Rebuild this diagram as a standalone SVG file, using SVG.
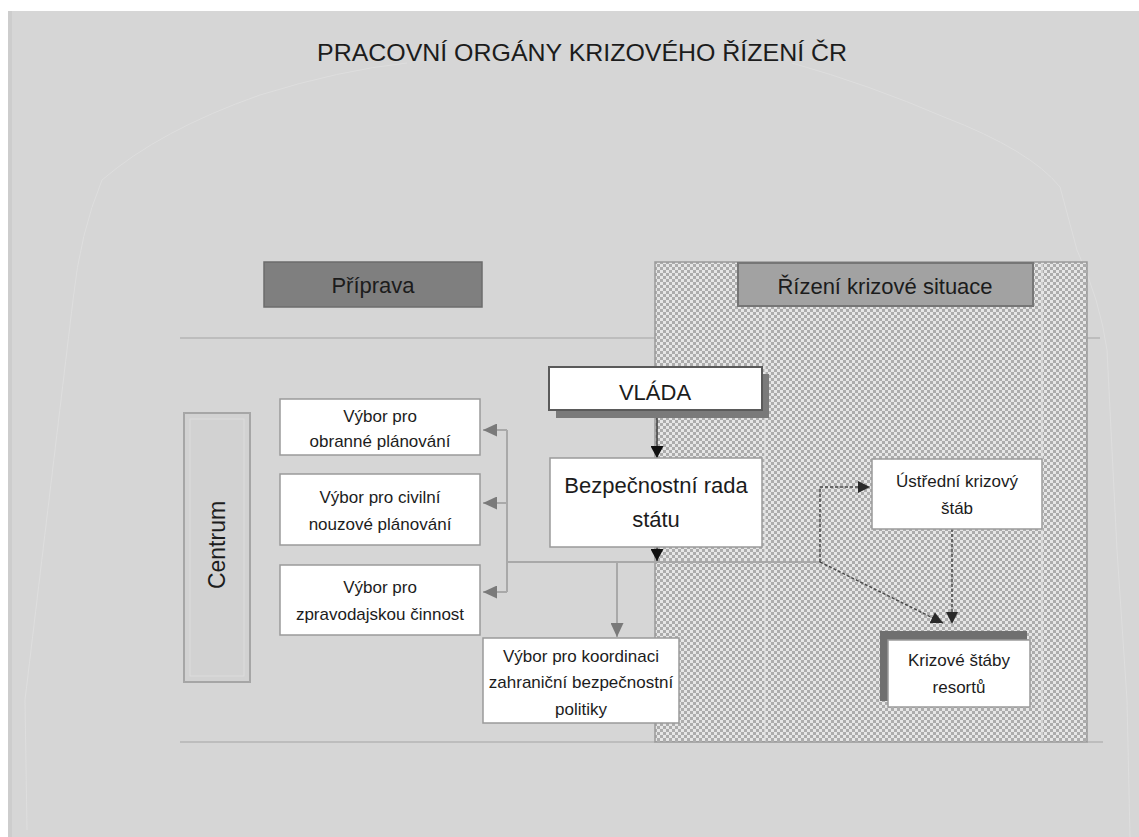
<svg xmlns="http://www.w3.org/2000/svg" width="1139" height="837" viewBox="0 0 1139 837">
  <style>
    .t { font-family: "Liberation Sans", Arial, sans-serif; fill: #1c1c1c; text-anchor: middle; }
    .big { font-size: 22px; }
    .small { font-size: 17px; }
    .box { fill: #ffffff; stroke: #9a9a9a; stroke-width: 1.5; }
    .guide { stroke: #bdbdbd; stroke-width: 2; fill: none; }
    .bus { stroke: #a9a9a9; stroke-width: 2; fill: none; }
    .solid { stroke: #3a3a3a; stroke-width: 1.5; fill: none; }
    .dash { stroke: #4a4a4a; stroke-width: 1.5; stroke-dasharray: 3 2; fill: none; }
  </style>
  <defs>
    <pattern id="checker" width="6" height="6" patternUnits="userSpaceOnUse">
      <rect width="6" height="6" fill="#acacac"/>
      <rect width="3" height="3" fill="#e6e6e6"/>
      <rect x="3" y="3" width="3" height="3" fill="#e6e6e6"/>
    </pattern>
    <marker id="arrGray" markerUnits="userSpaceOnUse" markerWidth="14" markerHeight="13" refX="14" refY="6.5" orient="auto">
      <path d="M0,0 L14,6.5 L0,13 z" fill="#7a7a7a"/>
    </marker>
    <marker id="arrBlack" markerUnits="userSpaceOnUse" markerWidth="12" markerHeight="13" refX="12" refY="6.5" orient="auto">
      <path d="M0,0 L12,6.5 L0,13 z" fill="#111"/>
    </marker>
    <marker id="arrDark" markerUnits="userSpaceOnUse" markerWidth="12" markerHeight="12" refX="12" refY="6" orient="auto">
      <path d="M0,0 L12,6 L0,12 z" fill="#2a2a2a"/>
    </marker>
  </defs>

  <!-- page -->
  <rect width="1139" height="837" fill="#ffffff"/>
  <rect x="8" y="11" width="1131" height="826" fill="#d6d6d6"/>
  <rect x="8" y="11" width="4" height="826" fill="#cdcdcd"/>

  <!-- faint arch outline -->
  <path d="M27,830 L25,700 L73,300 Q80,233 102,180 Q160,130 260,95 Q340,70 407,63 M792,63 Q870,85 944,117 Q1030,150 1060,187 L1077,250 Q1100,300 1107,350 L1117,550 L1127,700 L1130,837" fill="none" stroke="#dedede" stroke-width="1"/>

  <!-- title -->
  <text class="t" x="582" y="61" font-size="24" textLength="530" lengthAdjust="spacingAndGlyphs">PRACOVNÍ ORGÁNY KRIZOVÉHO ŘÍZENÍ ČR</text>

  <!-- phase separators -->
  <path class="guide" d="M180,338 H655 M1087,338 H1100 M180,742 H655 M1087,742 H1103"/>

  <!-- crisis management zone -->
  <g id="zone-crisis">
    <rect x="655" y="262" width="432" height="480" fill="url(#checker)" stroke="#9a9a9a" stroke-width="1.5"/>
    <rect x="764" y="263" width="2" height="478" fill="#e2e2e2" opacity="0.6"/>
    <rect x="1041" y="263" width="2" height="478" fill="#e2e2e2" opacity="0.6"/>
  </g>

  <!-- phase headers -->
  <g id="hdr-priprava">
    <rect x="264" y="262" width="218" height="45" fill="#7f7f7f" stroke="#6c6c6c" stroke-width="1.5"/>
    <text class="t big" x="373" y="293">Příprava</text>
  </g>
  <g id="hdr-rizeni">
    <rect x="738" y="263" width="295" height="43" fill="#a2a2a2" stroke="#767676" stroke-width="2"/>
    <text class="t big" x="885" y="294">Řízení krizové situace</text>
  </g>

  <!-- connectors -->
  <g id="connectors">
    <path class="bus" d="M507,430 V592 M507,562 H657 M657,562 H820"/>
    <path class="bus" d="M507,430 H483" marker-end="url(#arrGray)"/>
    <path class="bus" d="M507,503 H483" marker-end="url(#arrGray)"/>
    <path class="bus" d="M507,592 H483" marker-end="url(#arrGray)"/>
    <path class="bus" d="M617,562 V637" marker-end="url(#arrGray)"/>
    <path class="solid" d="M657,417 V458" marker-end="url(#arrBlack)"/>
    <path class="solid" d="M657,547 V561" marker-end="url(#arrBlack)"/>
    <path class="dash" d="M820,562 V487 H870" marker-end="url(#arrDark)"/>
    <path class="dash" d="M820,562 L943,623" marker-end="url(#arrDark)"/>
    <path class="dash" d="M952,529 V624" marker-end="url(#arrDark)"/>
  </g>

  <!-- nodes -->
  <g id="centrum">
    <rect x="184" y="413" width="66" height="269" fill="#d2d2d2" stroke="#a6a6a6" stroke-width="2"/>
    <rect x="190" y="419" width="54" height="257" fill="none" stroke="#dcdcdc" stroke-width="1"/>
    <text class="t" font-size="23" transform="translate(225,545) rotate(-90)">Centrum</text>
  </g>

  <g id="vybor-obranne">
    <rect class="box" x="280" y="399" width="200" height="56"/>
    <text class="t small" x="380" y="422">Výbor pro</text>
    <text class="t small" x="380" y="447">obranné plánování</text>
  </g>

  <g id="vybor-civilni">
    <rect class="box" x="280" y="474" width="200" height="71"/>
    <text class="t small" x="380" y="503">Výbor pro civilní</text>
    <text class="t small" x="380" y="530">nouzové plánování</text>
  </g>

  <g id="vybor-zpravodajska">
    <rect class="box" x="280" y="565" width="200" height="70"/>
    <text class="t small" x="380" y="593">Výbor pro</text>
    <text class="t small" x="380" y="620">zpravodajskou činnost</text>
  </g>

  <g id="vybor-koordinace">
    <rect class="box" x="483" y="638" width="196" height="85"/>
    <text class="t small" x="581" y="662">Výbor pro koordinaci</text>
    <text class="t small" x="581" y="688">zahraniční bezpečnostní</text>
    <text class="t small" x="581" y="715">politiky</text>
  </g>

  <g id="vlada">
    <rect x="556" y="374" width="213" height="44" fill="#7a7a7a"/>
    <rect x="549" y="367" width="213" height="43" fill="#ffffff" stroke="#5a5a5a" stroke-width="2"/>
    <text class="t big" x="655" y="400">VLÁDA</text>
  </g>

  <g id="bezpecnostni-rada">
    <rect class="box" x="550" y="458" width="212" height="89"/>
    <text class="t big" x="656" y="493">Bezpečnostní rada</text>
    <text class="t big" x="656" y="527">státu</text>
  </g>

  <g id="ustredni-stab">
    <rect class="box" x="872" y="459" width="170" height="70"/>
    <text class="t small" x="957" y="487">Ústřední krizový</text>
    <text class="t small" x="957" y="514">štáb</text>
  </g>

  <g id="krizove-staby">
    <rect x="880" y="631" width="147" height="70" fill="#6f6f6f"/>
    <rect x="888" y="640" width="142" height="67" fill="#ffffff" stroke="#9a9a9a" stroke-width="1.5"/>
    <text class="t small" x="959" y="666">Krizové štáby</text>
    <text class="t small" x="959" y="693">resortů</text>
  </g>
</svg>
